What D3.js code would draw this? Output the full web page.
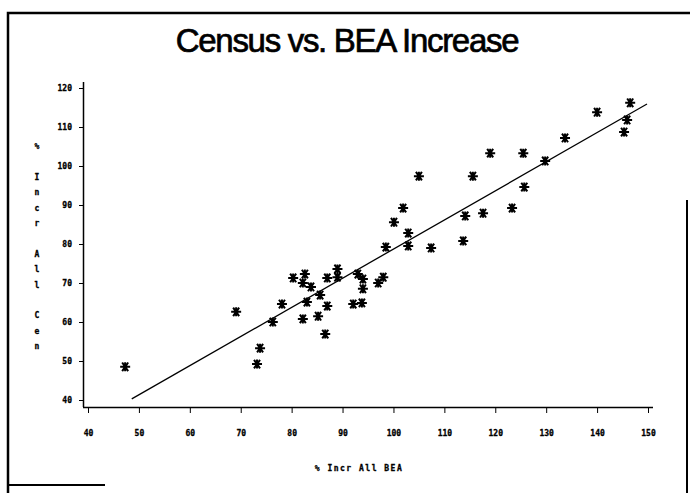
<!DOCTYPE html>
<head>
  <meta charset="utf-8">
  <style>
  body{
    margin:0;
    background-color:white;
  }
  .title{
    font-family: "Liberation Sans", Arial, sans-serif;
    font-size:33px;
    letter-spacing:-1.3px;
    stroke:black;
    stroke-width:0.7px;
  }
  .tick text, .lab{
    font-family: "DejaVu Sans Mono", monospace;
    font-weight: bold;
    font-size:8px;
    fill:black;
    stroke:black;
    stroke-width:0.3px;
  }
  </style>
</head>
<body>
  <svg width="690" height="493"></svg>
  <script src="https://d3js.org/d3.v7.min.js"></script>
  <script>

  // % increase, BEA (x) vs Census (y)
  var beaIncr = [47.3, 69.1, 73.8, 73.2, 76.3, 78.1, 82.2, 83.0, 85.2, 86.6,
                 87.0, 85.6, 80.3, 82.6, 82.2, 83.8, 87.0, 89.0, 89.0, 93.0,
                 94.0, 94.0, 92.1, 93.8, 97.0, 98.0, 98.5, 102.9, 107.4, 102.9,
                 100.1, 101.9, 105.0, 113.7, 114.1, 117.6, 123.3, 115.6, 119.0, 125.5,
                 125.7, 129.8, 133.7, 140.0, 146.5, 145.9, 145.3];
  var censusIncr = [48.5, 62.6, 53.3, 49.2, 60.0, 64.6, 60.8, 65.1, 61.5, 56.9,
                    64.1, 66.9, 71.3, 72.3, 70.0, 69.0, 71.3, 73.6, 71.5, 72.3,
                    71.0, 68.5, 64.6, 64.9, 70.0, 71.5, 79.2, 79.5, 79.0, 82.8,
                    85.6, 89.2, 97.4, 80.8, 87.2, 87.9, 89.2, 97.4, 103.3, 103.3,
                    94.6, 101.3, 107.2, 113.8, 116.2, 111.8, 108.7];
  // fitted line endpoints [x, y]
  var fitLine = [[48.6, 40.3], [149.8, 115.9]];
  var xTicks = [40, 50, 60, 70, 80, 90, 100, 110, 120, 130, 140, 150];
  var yTicks = [40, 50, 60, 70, 80, 90, 100, 110, 120];

  var svg = d3.select("svg");

  // page frame (scanned sheet edges)
  svg.append("path")
      .attr("d", "M8,493V13H690")
      .attr("fill", "none").attr("stroke", "black").attr("stroke-width", 2.5);
  svg.append("path")
      .attr("d", "M8,485H105")
      .attr("stroke", "black").attr("stroke-width", 2);
  svg.append("path")
      .attr("d", "M687,200V493")
      .attr("stroke", "black").attr("stroke-width", 2);

  svg.append("text")
      .attr("class", "title")
      .attr("x", 347).attr("y", 52)
      .attr("text-anchor", "middle")
      .text("Census vs. BEA Increase");

  var x = d3.scaleLinear().domain([40, 150]).range([88, 648]);
  var y = d3.scaleLinear().domain([40, 120]).range([400, 88]);

  var xAxis = svg.append("g")
      .attr("transform", "translate(0,407)")
      .call(d3.axisBottom(x).tickValues(xTicks).tickSize(6).tickPadding(17));
  xAxis.select(".domain").attr("d", "M83,0.5H653").attr("stroke-width", 1.5);

  var yAxis = svg.append("g")
      .attr("transform", "translate(83,0)")
      .call(d3.axisLeft(y).tickValues(yTicks).tickSize(4).tickPadding(7));
  yAxis.select(".domain").attr("d", "M0.5,82V407").attr("stroke-width", 1.5);

  // vertical stacked y label
  var yLab = "% Incr All Cen".split("");
  svg.append("g").selectAll("text")
    .data(yLab)
    .enter().append("text")
      .attr("class", "lab")
      .attr("x", 37)
      .attr("y", function(d, i) { return 149 + i * 15.4; })
      .attr("text-anchor", "middle")
      .text(function(d) { return d; });

  svg.append("text")
      .attr("class", "lab")
      .attr("x", 359).attr("y", 471)
      .attr("text-anchor", "middle")
      .attr("letter-spacing", "1.5px")
      .text("% Incr All BEA");

  svg.append("line")
      .attr("x1", x(fitLine[0][0])).attr("y1", y(fitLine[0][1]))
      .attr("x2", x(fitLine[1][0])).attr("y2", y(fitLine[1][1]))
      .attr("stroke", "black").attr("stroke-width", 1.3);

  var star = "M-5,0H5M-3,-4.3L3,4.3M-3,4.3L3,-4.3M0,-4.5V4.5";
  svg.append("g").selectAll("path")
    .data(beaIncr)
    .enter().append("path")
      .attr("d", star)
      .attr("transform", function(d, i) { return "translate(" + x(d) + "," + y(censusIncr[i]) + ")"; })
      .attr("stroke", "black").attr("stroke-width", 2).attr("fill", "none");

  </script>
</body>
